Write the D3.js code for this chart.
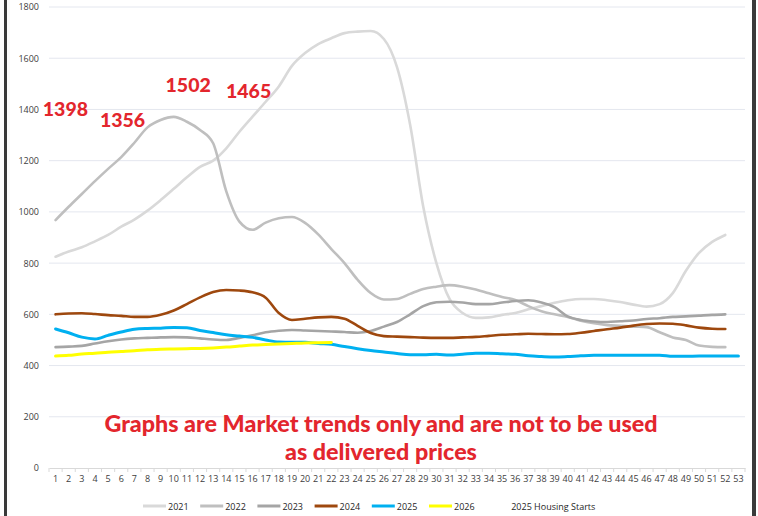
<!DOCTYPE html>
<html>
<head>
<meta charset="utf-8">
<script src="https://cdn.jsdelivr.net/npm/d3@7"></script>
<style>
  body { margin: 0; background: #fff; }
  svg { display: block; }
</style>
</head>
<body>
<script>
const width = 758
const height = 516

const weeks = d3.range(1, 54)
const yTicks = [0, 200, 400, 600, 800, 1000, 1200, 1400, 1600, 1800]

const s2021 = [825, 845, 862, 885, 910, 942, 970, 1005, 1046, 1090, 1135, 1176, 1200, 1248, 1313, 1372, 1430, 1490, 1570, 1620, 1655, 1678, 1698, 1704, 1706, 1675, 1565, 1340, 1020, 800, 660, 605, 586, 588, 598, 605, 620, 632, 645, 655, 660, 660, 655, 648, 638, 630, 640, 683, 770, 840, 883, 910]
const s2022 = [968, 1020, 1070, 1120, 1168, 1214, 1270, 1330, 1359, 1371, 1352, 1320, 1268, 1080, 962, 930, 958, 975, 980, 957, 912, 855, 800, 735, 683, 658, 660, 680, 699, 708, 714, 708, 697, 682, 668, 656, 632, 612, 600, 590, 575, 565, 558, 555, 552, 550, 530, 510, 500, 478, 473, 472]
const s2023 = [472, 474, 477, 486, 495, 502, 506, 508, 510, 511, 510, 506, 502, 500, 508, 518, 530, 536, 539, 537, 535, 533, 531, 528, 535, 552, 570, 600, 632, 647, 649, 646, 640, 640, 646, 652, 655, 646, 628, 592, 578, 572, 570, 573, 576, 582, 585, 590, 592, 595, 598, 600]
const s2024 = [600, 603, 604, 601, 597, 594, 590, 590, 598, 615, 640, 666, 687, 695, 693, 686, 665, 605, 578, 583, 588, 590, 583, 555, 527, 515, 513, 511, 509, 508, 508, 510, 512, 516, 520, 522, 524, 523, 522, 523, 528, 535, 542, 548, 556, 562, 564, 563, 557, 548, 544, 543]
const s2025 = [543, 528, 511, 504, 518, 531, 542, 545, 546, 549, 548, 537, 529, 520, 515, 510, 500, 492, 491, 491, 486, 483, 474, 466, 459, 453, 447, 442, 442, 444, 441, 444, 448, 448, 446, 444, 438, 435, 433, 435, 438, 440, 440, 440, 440, 440, 440, 436, 436, 437, 437, 437, 437]
const s2026 = [437, 440, 445, 448, 452, 455, 458, 462, 464, 465, 466, 467, 469, 472, 476, 480, 482, 484, 486, 488, 489, 490]

const seriesNames = ['2021', '2022', '2023', '2024', '2025', '2026', '2025 Housing Starts']
const seriesValues = [s2021, s2022, s2023, s2024, s2025, s2026, []]
const seriesColors = ['#d9d9d9', '#bfbfbf', '#a5a5a5', '#9e480e', '#00b0f0', '#ffff00', 'none']

// red call-outs: label, week position, value position
const noteLabels = ['1398', '1356', '1502', '1465']
const noteWeeks = [1.75, 6.1, 11.1, 15.7]
const noteValues = [1374, 1331, 1468, 1445]

const disclaimer = ['Graphs are Market trends only and are not to be used', 'as delivered prices']

const red = '#e3262d'
const plotLeft = 49, plotRight = 745, plotTop = 7, plotBottom = 468

const svg = d3.select('body').append('svg')
    .attr('width', width)
    .attr('height', height)

const xBand = d3.scaleBand().domain(weeks).range([plotLeft, plotRight])
const x = w => xBand(w) + xBand.bandwidth() / 2
const xNum = d3.scaleLinear().domain([1, 53]).range([x(1), x(53)])
const y = d3.scaleLinear().domain([0, 1800]).range([plotBottom, plotTop])

// frame bars from the screenshot
svg.append('rect').attr('x', 4).attr('y', 0).attr('width', 3).attr('height', height).attr('fill', '#3a3a3a')
svg.append('rect').attr('x', 752).attr('y', 0).attr('width', 4).attr('height', height).attr('fill', '#3a3a3a')

// gridlines
svg.append('g')
    .selectAll('line')
    .data(yTicks.filter(d => d > 0))
    .enter().append('line')
    .attr('x1', plotLeft).attr('x2', plotRight)
    .attr('y1', d => y(d)).attr('y2', d => y(d))
    .attr('stroke', '#e4e7ef')
    .attr('stroke-width', 1)

// y axis labels
const yAxis = svg.append('g')
    .attr('transform', `translate(${plotLeft},0)`)
    .call(d3.axisLeft(y).tickValues(yTicks).tickFormat(d3.format('d')).tickSize(0).tickPadding(10))
yAxis.select('.domain').remove()
yAxis.selectAll('text')
    .attr('font-family', 'Open Sans, sans-serif')
    .attr('font-size', 9)
    .attr('fill', '#404040')

// x axis
const xAxis = svg.append('g')
    .attr('transform', `translate(0,${plotBottom})`)
    .call(d3.axisBottom(xBand).tickSize(0).tickPadding(8))
xAxis.select('.domain').attr('stroke', '#d9d9d9')
xAxis.selectAll('text')
    .attr('font-family', 'Open Sans, sans-serif')
    .attr('font-size', 9)
    .attr('fill', '#404040')
svg.append('g')
    .selectAll('line')
    .data(weeks.concat([54]))
    .enter().append('line')
    .attr('x1', d => d === 54 ? plotRight : xBand(d))
    .attr('x2', d => d === 54 ? plotRight : xBand(d))
    .attr('y1', plotBottom).attr('y2', plotBottom + 4)
    .attr('stroke', '#d9d9d9')

// series lines
const line = d3.line()
    .x((d, i) => x(weeks[i]))
    .y(d => y(d))
    .curve(d3.curveMonotoneX)

svg.append('g')
    .selectAll('path')
    .data(seriesValues.map((v, i) => ({v, c: seriesColors[i], name: seriesNames[i]})).filter(d => d.v.length))
    .enter().append('path')
    .attr('d', d => line(d.v))
    .attr('fill', 'none')
    .attr('stroke', d => d.c)
    .attr('stroke-width', d => d.name === '2025' || d.name === '2026' ? 3 : 2.6)
    .attr('stroke-linejoin', 'round')
    .attr('stroke-linecap', 'round')

// red call-outs
svg.append('g')
    .selectAll('text')
    .data(noteLabels)
    .enter().append('text')
    .attr('x', (d, i) => xNum(noteWeeks[i]))
    .attr('y', (d, i) => y(noteValues[i]))
    .attr('text-anchor', 'middle')
    .attr('font-family', 'Lato, sans-serif')
    .attr('font-weight', 900)
    .attr('font-size', 19.5)
    .attr('fill', red)
    .text(d => d)

svg.append('g')
    .selectAll('text')
    .data(disclaimer)
    .enter().append('text')
    .attr('x', 381)
    .attr('y', (d, i) => 432 + i * 28)
    .attr('text-anchor', 'middle')
    .attr('font-family', 'Lato, sans-serif')
    .attr('font-weight', 900)
    .attr('font-size', 23.3)
    .attr('fill', red)
    .text(d => d)

// legend
const legend = svg.append('g')
    .selectAll('g')
    .data(seriesNames)
    .enter().append('g')
    .attr('transform', (d, i) => `translate(${143 + i * 57.2},506)`)
legend.append('line')
    .attr('x1', 0).attr('x2', 23)
    .attr('y1', 0).attr('y2', 0)
    .attr('stroke', (d, i) => seriesColors[i])
    .attr('stroke-width', 3)
legend.append('text')
    .attr('x', 25)
    .attr('y', 3.5)
    .attr('font-family', 'Open Sans, sans-serif')
    .attr('font-size', 9)
    .attr('fill', '#262626')
    .text(d => d)
</script>
</body>
</html>
